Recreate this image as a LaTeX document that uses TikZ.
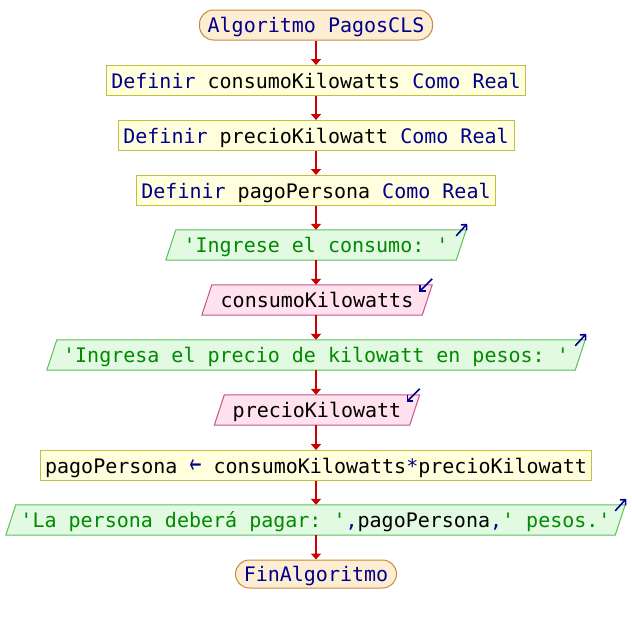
\documentclass[tikz,border=0pt]{standalone}
\usepackage{fontspec}
\setmonofont{DejaVu Sans Mono}
\newfontfamily\arrowfont{DejaVu Sans}
\usetikzlibrary{backgrounds,arrows.meta}
\definecolor{kw}{HTML}{00008C}
\definecolor{str}{HTML}{008A00}
\definecolor{flowred}{HTML}{CC0000}
\definecolor{termfill}{HTML}{FDEDD2}
\definecolor{termdraw}{HTML}{C88A3C}
\definecolor{deffill}{HTML}{FFFFDD}
\definecolor{defdraw}{HTML}{C2BE40}
\definecolor{outfill}{HTML}{E2FAE2}
\definecolor{outdraw}{HTML}{5CC05C}
\definecolor{infill}{HTML}{FFE2EE}
\definecolor{indraw}{HTML}{C4548A}
\newcommand\paral[3]{%
  \begin{pgfonlayer}{background}
  \draw[draw=#3,fill=#2,line width=1pt]
    ([xshift=5pt]#1.north west) -- ([xshift=5pt]#1.north east) --
    ([xshift=-5pt]#1.south east) -- ([xshift=-5pt]#1.south west) -- cycle;
  \end{pgfonlayer}}
\newcommand\asgarrow{\makebox[12pt]{\scalebox{0.72}[1.35]{\arrowfont ←}}}
\begin{document}
\begin{tikzpicture}[x=1pt,y=-1pt,
  box/.style={minimum height=30pt, inner sep=0pt, text height=15pt, text depth=0pt,
    font=\ttfamily\fontsize{20}{24}\selectfont},
  term/.style={box, rounded corners=14pt, draw=termdraw, fill=termfill, line width=1pt},
  defbox/.style={box, draw=defdraw, fill=deffill, line width=1pt},
  iobox/.style={box},
  flow/.style={draw=flowred, line width=2pt, -{Triangle[length=6pt,width=10pt]}},
  icon/.style={draw=kw, line width=1.6pt, -{Straight Barb[length=4pt,width=8pt]}}
]
\useasboundingbox (0,0) rectangle (632,625);

\node[term, minimum width=233pt] (start) at (316,25) {\color{kw}Algoritmo PagosCLS};
\node[defbox, minimum width=419pt] (d1) at (316,80.5)
  {{\color{kw}Definir} consumoKilowatts {\color{kw}Como Real}};
\node[defbox, minimum width=396pt] (d2) at (316,135.5)
  {{\color{kw}Definir} precioKilowatt {\color{kw}Como Real}};
\node[defbox, minimum width=359pt] (d3) at (316,190.5)
  {{\color{kw}Definir} pagoPersona {\color{kw}Como Real}};
\node[iobox, minimum width=290pt] (o1) at (316,245)
  {\color{str}'Ingrese el consumo: '};
\node[iobox, minimum width=220pt] (i1) at (317,300) {consumoKilowatts};
\node[iobox, minimum width=528pt] (o2) at (316,355)
  {\color{str}'Ingresa el precio de kilowatt en pesos: '};
\node[iobox, minimum width=195pt] (i2) at (317,410) {precioKilowatt};
\node[defbox, minimum width=551pt] (as) at (316,465.5)
  {pagoPersona {\color{kw}\asgarrow} consumoKilowatts{\color{kw}*}precioKilowatt};
\node[iobox, minimum width=609pt] (o3) at (315.5,520)
  {{\color{str}'La persona deberá pagar: '}{\color{kw},}pagoPersona{\color{kw},}{\color{str}' pesos.'}};
\node[term, minimum width=161pt, minimum height=28pt] (fin) at (316,574)
  {\color{kw}FinAlgoritmo};

\paral{o1}{outfill}{outdraw}
\paral{o2}{outfill}{outdraw}
\paral{o3}{outfill}{outdraw}
\paral{i1}{infill}{indraw}
\paral{i2}{infill}{indraw}

\foreach \a/\b in {start/d1,d1/d2,d2/d3,d3/o1,o1/i1,i1/o2,o2/i2,i2/as,as/o3,o3/fin}
  \draw[flow] (316,0 |- \a.south) -- (316,0 |- \b.north);

\foreach \n in {o1,o2,o3}
  \draw[icon] ([xshift=-5pt,yshift=-6pt]\n.north east) -- ([xshift=6pt,yshift=6pt]\n.north east);
\foreach \n in {i1,i2}
  \draw[icon] ([xshift=5pt,yshift=6pt]\n.north east) -- ([xshift=-8pt,yshift=-7pt]\n.north east);
\end{tikzpicture}
\end{document}
